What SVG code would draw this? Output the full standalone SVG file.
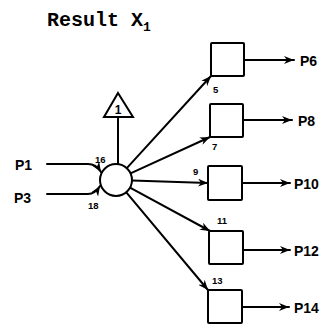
<svg xmlns="http://www.w3.org/2000/svg" width="329" height="327" viewBox="0 0 329 327">
<defs>
<style>
.ln{fill:none;stroke:#000;stroke-width:2;stroke-linecap:round}
.bx{fill:#fff;stroke:#000;stroke-width:2}
.pl{font-family:"Liberation Sans",Arial,sans-serif;font-weight:bold;font-size:14px;fill:#000}
.sm{font-family:"Liberation Sans",Arial,sans-serif;font-weight:bold;font-size:9.5px;fill:#000}
.tt{font-family:"Liberation Mono","Courier New",monospace;font-weight:bold;font-size:20px;fill:#000}
</style>
<marker id="ah" viewBox="0 0 10 8" refX="10" refY="4" markerWidth="10" markerHeight="8" markerUnits="userSpaceOnUse" orient="auto">
<path d="M0,0 L10,4 L0,8 L3,4 z" fill="#000"/>
</marker>
</defs>
<text class="tt" x="47" y="26">Result X<tspan style="font-size:13px" dy="5">1</tspan></text>
<g id="connectors">
<path class="ln" d="M47,164 L88,164 Q96,164 101,172" marker-end="url(#ah)"/>
<path class="ln" d="M47,194 L88,194 Q95,194 100,186" marker-end="url(#ah)"/>
<path class="ln" d="M118,117 L118,164"/>
<path class="ln" d="M126.8,168.2 L211,76" marker-end="url(#ah)"/>
<path class="ln" d="M130.5,173.3 L210,137" marker-end="url(#ah)"/>
<path class="ln" d="M132,180.5 L208,183" marker-end="url(#ah)"/>
<path class="ln" d="M130,187.6 L210,231" marker-end="url(#ah)"/>
<path class="ln" d="M126.3,192.3 L208,290" marker-end="url(#ah)"/>
<path class="ln" d="M244,60 L294,60" marker-end="url(#ah)"/>
<path class="ln" d="M243,120 L292,120" marker-end="url(#ah)"/>
<path class="ln" d="M242,183 L290,183" marker-end="url(#ah)"/>
<path class="ln" d="M243,250 L290,250" marker-end="url(#ah)"/>
<path class="ln" d="M242,307 L289,307" marker-end="url(#ah)"/>
</g>
<g id="P1"><text class="pl" x="15" y="170">P1</text></g>
<g id="P3"><text class="pl" x="14" y="203">P3</text></g>
<g id="circle">
<circle cx="116" cy="180" r="16" class="bx"/>
<text class="sm" x="95" y="163">16</text>
<text class="sm" x="88" y="209">18</text>
</g>
<g id="triangle">
<path class="bx" d="M118,93 L133,117 L104,117 z"/>
<text class="sm" x="118" y="114" text-anchor="middle" style="font-size:12px">1</text>
</g>
<g id="box5"><rect class="bx" x="211" y="43" width="33" height="33" rx="1"/><text class="sm" x="213" y="93">5</text></g>
<g id="box7"><rect class="bx" x="210" y="104" width="33" height="33" rx="1"/><text class="sm" x="212" y="150">7</text></g>
<g id="box9"><rect class="bx" x="208" y="166" width="34" height="34" rx="1"/><text class="sm" x="193" y="175">9</text></g>
<g id="box11"><rect class="bx" x="209" y="231" width="34" height="33" rx="1"/><text class="sm" x="217" y="224">11</text></g>
<g id="box13"><rect class="bx" x="208" y="290" width="34" height="33" rx="1"/><text class="sm" x="212" y="284">13</text></g>
<g id="P6"><text class="pl" x="300" y="66">P6</text></g>
<g id="P8"><text class="pl" x="298" y="126">P8</text></g>
<g id="P10"><text class="pl" x="294" y="189">P10</text></g>
<g id="P12"><text class="pl" x="294" y="256">P12</text></g>
<g id="P14"><text class="pl" x="294" y="313">P14</text></g>
</svg>
